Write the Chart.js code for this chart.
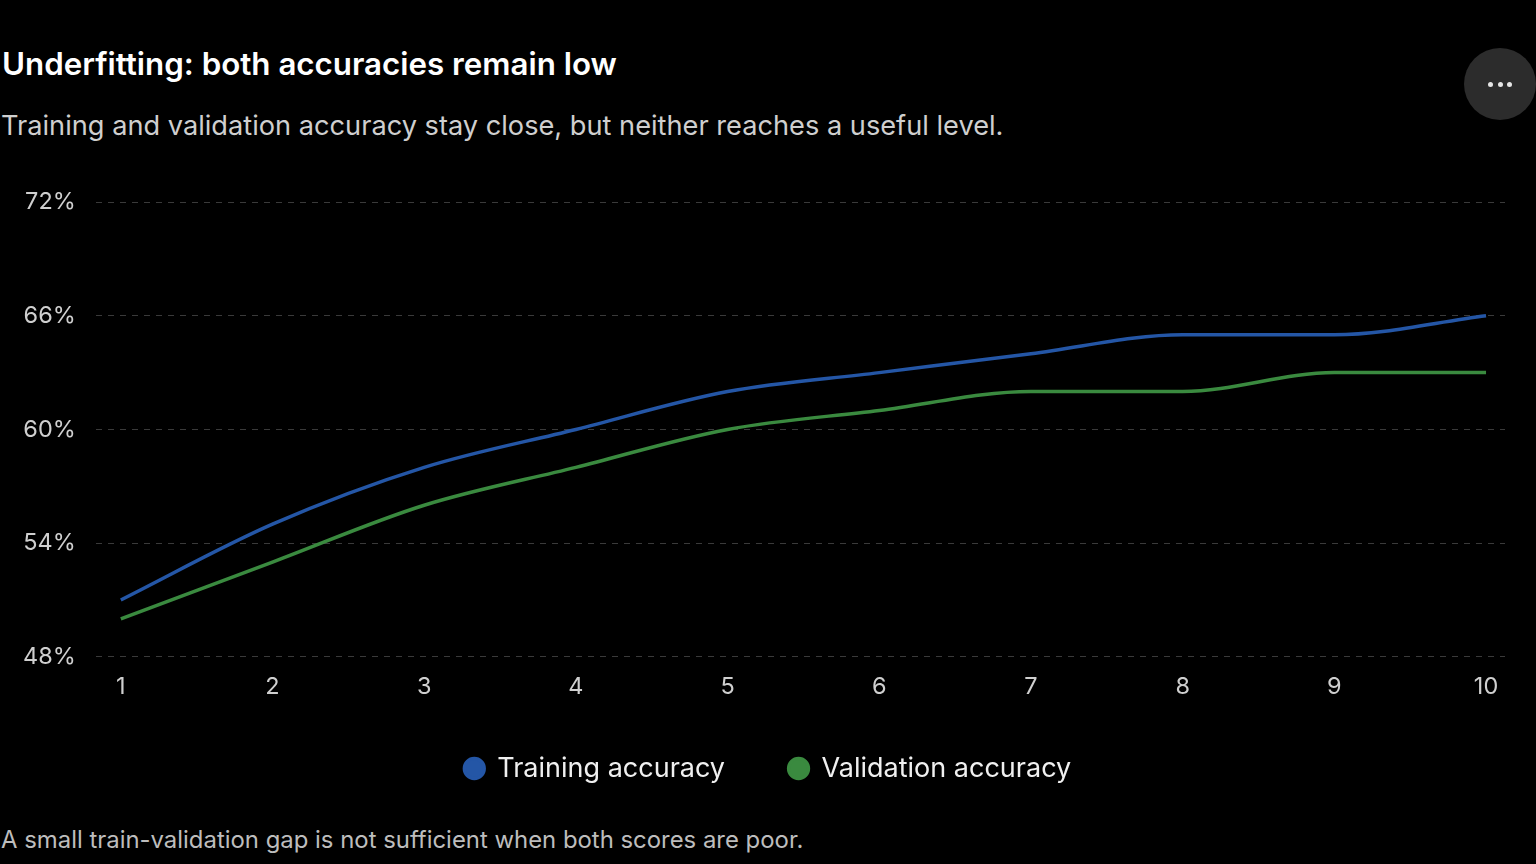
<!DOCTYPE html>
<html>
<head>
<meta charset="utf-8">
<script src="https://cdn.jsdelivr.net/npm/chart.js@4.4.1/dist/chart.umd.min.js"></script>
<style>
  html, body { margin: 0; padding: 0; background: #000; }
  body { width: 1536px; height: 864px; position: relative; overflow: hidden; font-family: Inter, "Noto Sans", sans-serif; }
  h1 { position: absolute; left: 2px; top: 45px; margin: 0; font-size: 31.3px; font-weight: 600; color: #fff; }
  .sub { position: absolute; left: 1px; top: 109px; margin: 0; font-size: 27.2px; color: #cfcfcf; }
  .foot { position: absolute; left: 1px; top: 825px; margin: 0; font-size: 23.9px; color: #bdbdbd; }
  .more { position: absolute; left: 1464px; top: 48px; width: 72px; height: 72px; border-radius: 50%; background: #2c2c2c; }
  .more span { position: absolute; top: 34px; width: 5px; height: 5px; border-radius: 50%; background: #e6e6e6; }
  #wrap { position: absolute; left: 0; top: 168px; width: 1536px; height: 642px; }
</style>
</head>
<body>
<h1>Underfitting: both accuracies remain low</h1>
<p class="sub">Training and validation accuracy stay close, but neither reaches a useful level.</p>
<div class="more"><span style="left:24px"></span><span style="left:33.5px"></span><span style="left:43px"></span></div>
<div id="wrap"><canvas id="acc-chart"></canvas></div>
<p class="foot">A small train-validation gap is not sufficient when both scores are poor.</p>
<script>
const epochs = [1, 2, 3, 4, 5, 6, 7, 8, 9, 10];
const trainAcc = [51, 55, 58, 60, 62, 63, 64, 65, 65, 66];
const valAcc = [50, 53, 56, 58, 60, 61, 62, 62, 63, 63];
const yTicks = [48, 54, 60, 66, 72];

// wide gap between legend items, but keep the row close to the x labels
const moveLegend = {
    id: "moveLegend",
    afterLayout(chart) {
        const lg = chart.legend;
        lg.top -= 18;
        lg.bottom -= 18;
        lg.left += 14;
        lg.right += 14;
    }
};

new Chart(document.getElementById("acc-chart").getContext('2d'), {
    type: "line",
    data: {
        datasets: [{
            label: "Training accuracy",
            data: epochs.map((e, i) => ({ x: e, y: trainAcc[i] })),
            borderColor: "#2456a6",
            backgroundColor: "#2456a6",
            borderWidth: 3.5,
            pointRadius: 0,
            cubicInterpolationMode: "monotone",
            fill: false
        }, {
            label: "Validation accuracy",
            data: epochs.map((e, i) => ({ x: e, y: valAcc[i] })),
            borderColor: "#3a8a3f",
            backgroundColor: "#3a8a3f",
            borderWidth: 3.5,
            pointRadius: 0,
            cubicInterpolationMode: "monotone",
            fill: false
        }]
    },
    options: {
        responsive: true,
        maintainAspectRatio: false,
        animation: false,
        layout: { padding: { left: 3, right: 31, top: 0, bottom: 0 } },
        scales: {
            x: {
                type: "linear",
                min: 0.835,
                max: 10.125,
                afterBuildTicks: axis => { axis.ticks = epochs.map(v => ({ value: v })); },
                grid: { display: false },
                border: { display: false },
                ticks: { color: "#cfcfcf", font: { family: "Inter", size: 23.5 }, padding: 8 }
            },
            y: {
                min: 48,
                max: 72,
                afterBuildTicks: axis => { axis.ticks = yTicks.map(v => ({ value: v })); },
                grid: { color: "#3a3a3a", drawTicks: false },
                border: { display: false, dash: [6, 6] },
                ticks: { color: "#cfcfcf", font: { family: "Inter", size: 23.5 }, padding: 20, callback: v => v + "%" }
            }
        },
        plugins: {
            legend: {
                position: "bottom",
                labels: {
                    color: "#f0f0f0",
                    font: { family: "Inter", size: 27 },
                    usePointStyle: true,
                    pointStyle: "circle",
                    boxWidth: 19,
                    boxHeight: 14,
                    padding: 64
                }
            },
            tooltip: { enabled: false }
        }
    },
    plugins: [moveLegend]
});
</script>
</body>
</html>
